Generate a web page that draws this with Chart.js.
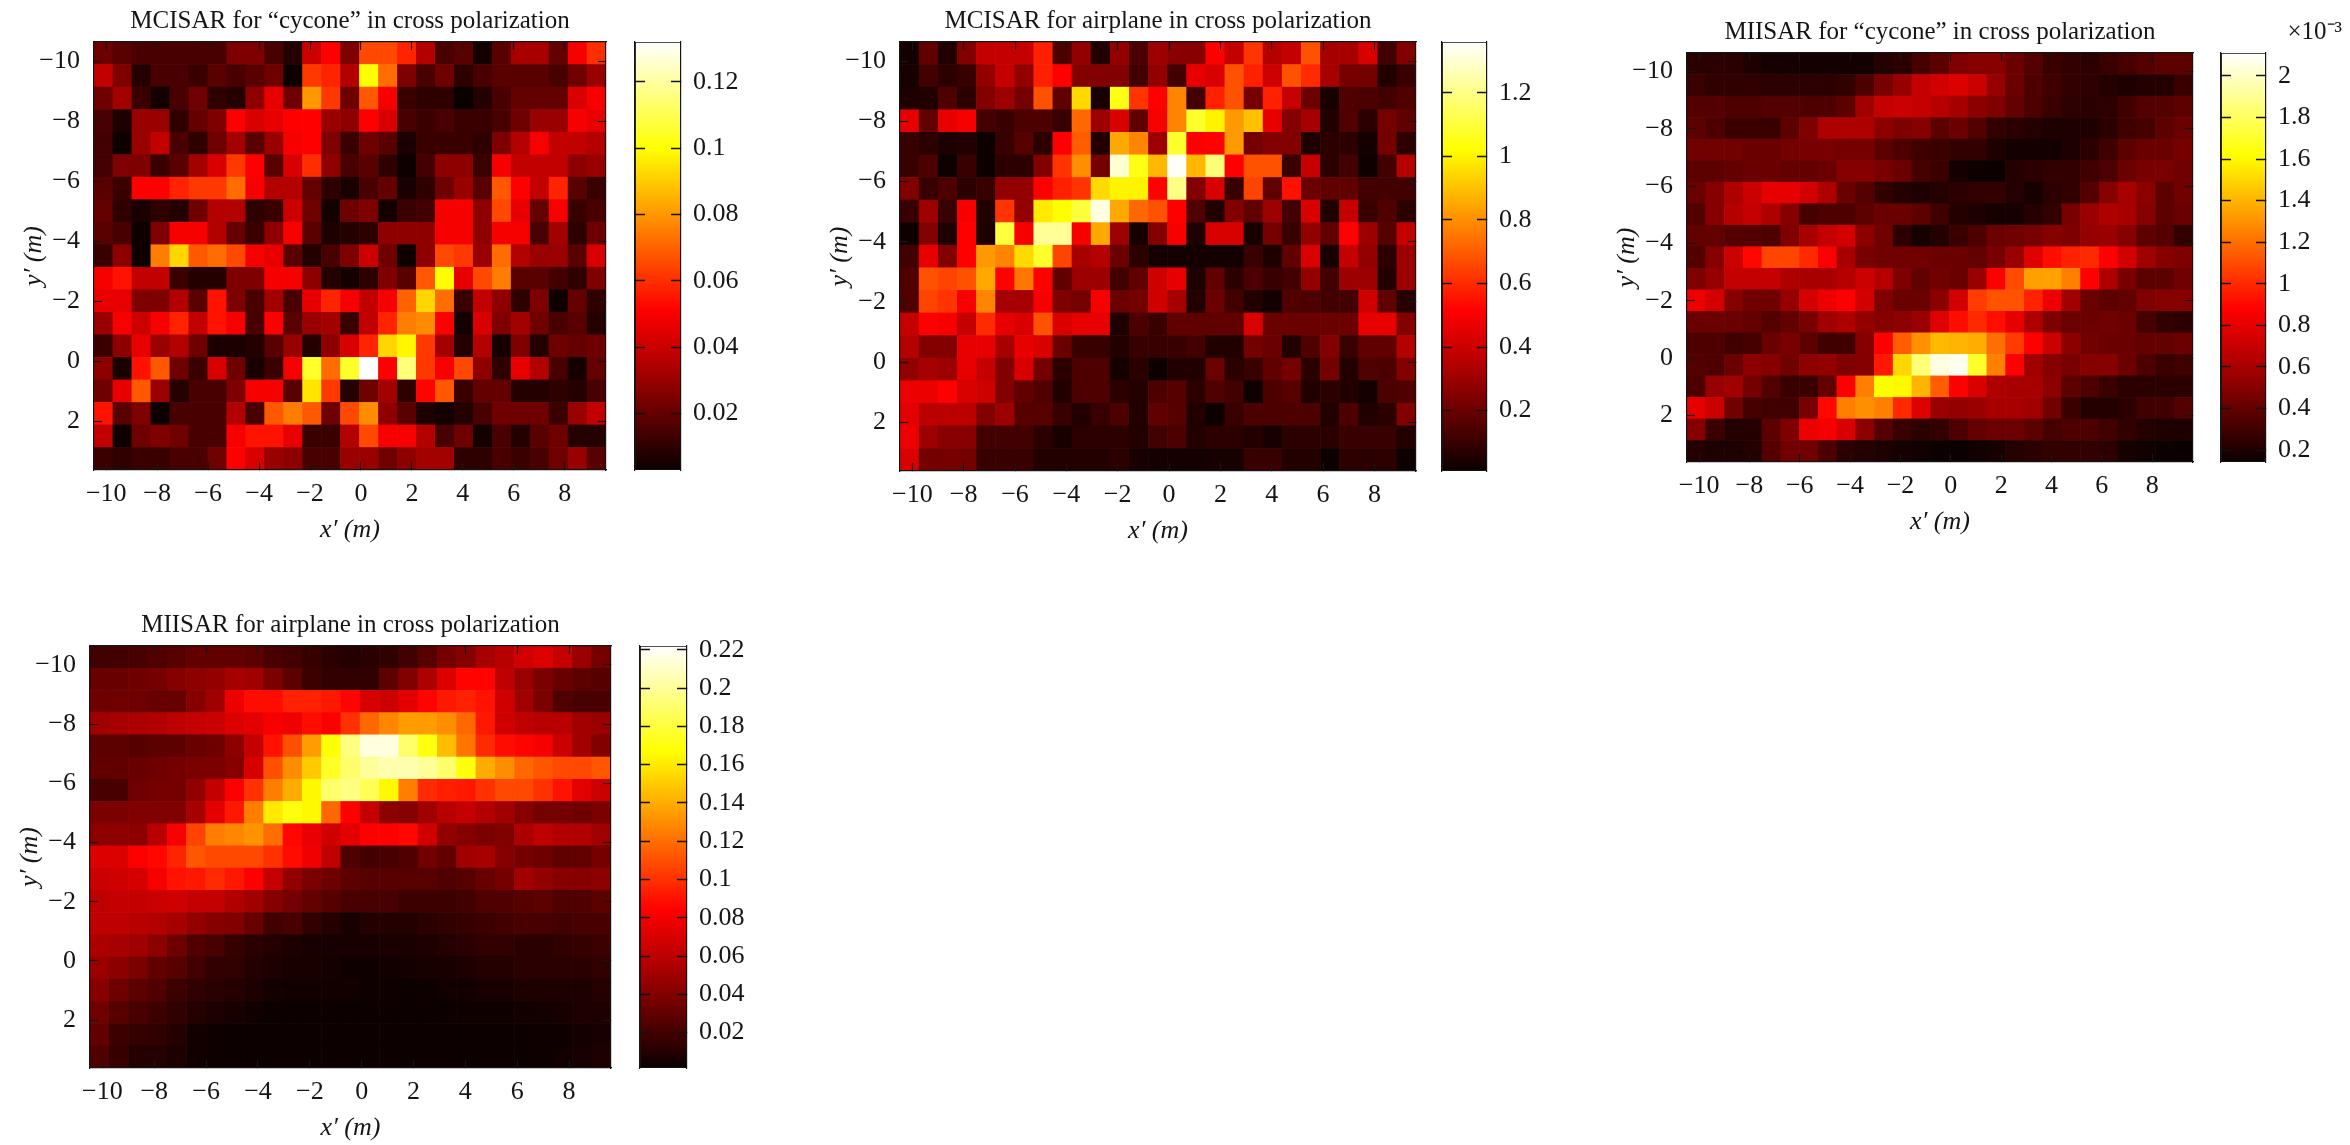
<!DOCTYPE html>
<html>
<head>
<meta charset="utf-8">
<title>MCISAR / MIISAR images in cross polarization</title>
<script src="https://cdn.jsdelivr.net/npm/chart.js@4"></script>
<style>
    html, body { margin: 0; background: #fff; }
    canvas { position: absolute; }
</style>
</head>
<body>
<script>
// ==========================================
// 1. DATA (one row per y' cell, top row first)
// ==========================================
const xTicks = [-10, -8, -6, -4, -2, 0, 2, 4, 6, 8];
const yTicks = [-10, -8, -6, -4, -2, 0, 2];
const xRange = [-10.48, 9.62];
const yRange = [-10.64, 3.62];
const colCount = 27;
const rowCount = 19;

const panelTitles = [
    'MCISAR for “cycone” in cross polarization',
    'MCISAR for airplane in cross polarization',
    'MIISAR for “cycone” in cross polarization',
    'MIISAR for airplane in cross polarization'
];

// colorbar limits and ticks, in the units printed next to the bar
const barRange1 = [0.003, 0.132];
const barRange2 = [0.01, 1.36];
const barRange3 = [0.143, 2.11];
const barRange4 = [0.0015, 0.222];
const barTicks1 = [0.02, 0.04, 0.06, 0.08, 0.1, 0.12];
const barTicks2 = [0.2, 0.4, 0.6, 0.8, 1, 1.2];
const barTicks3 = [0.2, 0.4, 0.6, 0.8, 1, 1.2, 1.4, 1.6, 1.8, 2];
const barTicks4 = [0.02, 0.04, 0.06, 0.08, 0.1, 0.12, 0.14, 0.16, 0.18, 0.2, 0.22];
const barExponent = ['', '', '×10⁻³', ''];

// cell values, stored as whole numbers of these units
const cellUnits = [0.001, 0.01, 0.01, 0.001];

const mcisarCycone = [
    [22,18,15,15,15,15,15,25,25,15,8,40,50,25,65,65,58,35,15,18,5,18,33,33,20,48,60],
    [38,25,8,15,15,12,18,15,18,22,4,62,58,35,100,72,25,15,22,10,15,18,18,18,15,22,30],
    [22,32,12,5,15,22,10,8,28,45,22,80,62,22,68,48,12,10,10,3,8,15,20,20,20,42,48],
    [15,7,30,30,10,20,25,50,42,45,50,50,30,28,50,42,15,12,15,12,12,15,22,30,30,48,45],
    [14,4,30,38,15,10,22,32,18,30,48,50,25,12,22,18,6,12,12,12,10,25,35,48,38,38,35],
    [14,25,25,12,18,32,42,62,50,18,42,60,28,15,18,10,4,14,28,28,12,48,38,38,38,28,30],
    [18,12,50,50,58,62,62,72,48,35,35,20,10,6,15,20,6,10,22,30,18,68,50,38,58,18,12],
    [20,10,6,10,8,22,35,35,10,12,40,22,5,22,25,5,12,14,48,48,28,65,45,20,48,12,15],
    [18,15,4,25,48,48,35,20,12,28,48,18,7,8,10,28,28,28,48,48,28,48,48,15,32,10,22],
    [12,28,4,75,92,68,72,65,48,45,18,8,15,25,40,22,4,28,65,62,30,72,35,30,30,18,42],
    [48,55,38,38,12,8,8,25,25,48,48,28,8,5,10,25,18,68,100,45,65,75,18,18,14,10,25],
    [45,45,25,25,35,18,55,25,15,32,15,45,58,48,38,48,70,92,72,12,38,28,10,25,4,20,10],
    [30,48,40,48,58,38,55,48,15,50,18,30,32,12,38,58,75,78,50,5,42,25,32,22,15,18,8],
    [12,28,45,30,35,22,6,6,8,18,30,8,28,42,58,92,98,62,32,8,35,5,25,8,22,20,22],
    [28,6,55,68,22,12,42,22,6,12,48,105,72,105,132,50,115,62,48,65,28,10,45,35,15,5,20],
    [22,45,68,30,8,15,15,25,48,48,18,95,62,8,22,32,10,52,68,12,20,20,8,8,10,8,15],
    [55,18,25,4,15,15,15,35,15,68,75,68,22,65,78,28,18,7,5,8,15,22,22,22,12,30,38],
    [38,4,22,25,22,15,15,48,55,55,45,12,12,35,65,48,48,35,15,22,5,15,8,18,22,8,8],
    [12,10,12,12,15,15,22,50,42,30,28,15,15,30,30,22,28,32,32,10,10,15,12,15,22,30,18]
];

const mcisarAirplane = [
    [3,18,6,25,38,38,38,58,14,28,6,28,14,30,26,26,50,38,62,35,38,68,32,32,42,12,25],
    [4,12,8,10,28,38,28,58,50,25,25,25,12,28,12,45,42,68,58,40,68,60,32,22,22,6,10],
    [5,6,14,8,25,30,22,68,18,95,4,105,62,50,78,12,58,68,22,58,38,20,4,15,14,12,15],
    [45,18,45,48,12,10,14,14,10,72,30,42,18,48,78,108,100,82,90,45,25,32,6,15,8,22,18],
    [10,8,5,6,2,10,16,8,50,70,6,85,78,30,108,50,52,82,22,25,25,5,8,8,3,22,8],
    [10,14,2,10,2,8,8,25,62,80,22,130,105,88,135,88,118,50,68,68,10,38,8,12,2,12,35],
    [25,10,14,8,10,28,28,50,58,62,95,100,100,52,120,25,42,10,65,18,55,20,18,18,12,12,12],
    [10,30,10,48,6,62,28,98,102,110,132,85,72,68,50,15,6,25,18,30,12,42,6,38,10,15,8],
    [2,25,5,50,5,110,48,122,122,48,85,30,4,25,48,5,42,42,4,22,10,28,18,52,30,16,38],
    [12,45,25,50,82,78,95,108,65,32,35,20,8,3,3,3,3,3,10,5,18,42,4,38,28,8,30],
    [15,68,65,68,85,52,75,50,18,30,30,12,18,40,45,5,18,8,14,10,12,28,12,30,30,6,30],
    [15,65,62,48,78,32,32,48,24,22,48,20,22,40,32,6,20,12,6,3,15,14,12,12,40,18,7],
    [38,50,48,38,60,45,42,68,42,45,45,5,14,10,18,18,18,18,42,20,20,20,20,20,45,45,25],
    [35,25,25,45,45,32,45,42,20,10,10,6,10,10,10,12,6,6,22,20,6,15,25,10,18,18,35],
    [28,32,30,45,38,25,42,22,8,14,14,3,8,2,6,6,20,8,10,18,22,8,22,6,15,14,25],
    [46,46,50,42,40,25,18,15,6,14,14,8,6,14,16,8,15,12,2,14,16,6,8,6,3,14,15],
    [44,36,36,36,25,30,16,16,10,6,10,14,6,18,16,6,2,10,14,14,14,14,6,14,6,8,25],
    [46,30,26,26,12,12,12,8,4,8,8,8,6,12,14,6,8,8,6,4,8,8,8,10,10,10,6],
    [42,22,22,22,10,10,10,6,6,6,6,8,4,3,3,3,4,4,10,10,6,6,2,8,8,8,2]
];

const miisarCycone = [
    [24,24,24,20,18,18,17,17,17,17,22,24,32,38,48,50,50,42,36,28,26,24,28,32,36,38,38],
    [28,25,25,25,24,24,24,24,26,34,46,55,68,72,75,70,55,42,34,30,26,24,22,20,22,22,28],
    [36,36,34,34,36,36,34,34,38,58,68,70,68,64,60,52,48,40,34,28,24,24,24,30,36,36,38],
    [38,34,28,28,28,38,48,62,62,62,52,48,50,38,42,35,26,24,22,20,20,20,24,30,32,38,42],
    [44,44,44,42,42,45,46,46,45,45,38,34,30,28,26,26,20,17,17,17,20,24,30,38,42,42,45],
    [38,38,40,42,42,40,40,42,50,50,46,42,32,28,17,15,15,22,24,26,26,30,34,42,46,46,44],
    [42,50,62,70,78,78,72,62,42,36,26,22,20,22,24,26,26,22,18,24,26,36,50,60,52,38,44],
    [36,50,64,68,62,50,32,34,34,38,42,42,38,30,22,20,18,18,22,26,46,56,62,60,50,38,42],
    [40,40,36,36,34,48,60,68,72,52,44,24,18,22,28,34,42,44,46,50,48,55,56,50,38,36,26],
    [36,50,70,90,108,108,100,84,60,46,44,44,44,42,42,40,46,56,76,92,98,100,88,72,58,50,48],
    [48,55,68,68,68,62,60,60,64,70,64,48,40,44,42,56,86,110,134,135,125,88,62,46,38,38,44],
    [80,72,50,44,44,55,72,80,85,72,48,42,42,52,72,105,112,112,98,80,58,42,38,40,48,50,50],
    [42,42,42,40,36,40,46,58,62,54,50,52,56,76,92,100,92,78,62,48,42,42,44,42,32,26,24],
    [34,34,30,32,42,46,38,30,30,50,88,115,130,142,140,138,120,105,85,70,52,44,42,42,40,40,42],
    [36,34,42,52,50,44,52,54,48,50,95,150,185,205,208,170,125,85,58,50,46,50,50,42,34,28,30],
    [34,55,58,45,35,28,28,40,85,125,162,160,140,115,85,74,62,60,60,52,38,34,28,24,24,24,24],
    [78,70,44,32,30,30,46,90,125,130,125,100,76,56,54,56,60,60,58,44,28,22,22,24,30,30,36],
    [50,28,22,22,38,48,80,82,74,52,36,28,24,26,34,40,42,42,38,32,34,34,30,26,22,20,20],
    [22,20,20,22,36,44,44,34,24,22,20,18,16,15,15,16,18,22,24,26,26,26,24,18,16,15,14]
];

const miisarAirplane = [
    [20,20,22,24,26,30,30,30,28,22,20,16,12,10,12,14,20,26,36,42,52,58,66,70,62,48,36],
    [32,32,34,36,42,44,46,52,50,38,28,18,14,14,14,28,40,55,70,85,85,60,48,38,32,28,26],
    [34,34,34,32,32,42,50,75,88,88,95,95,92,85,68,64,72,85,92,95,90,66,50,38,24,22,22],
    [50,52,54,56,60,62,64,70,72,78,76,88,80,100,118,128,135,135,130,118,92,66,60,58,58,50,48],
    [28,28,26,28,28,32,34,44,62,90,110,135,168,195,215,215,190,170,145,122,98,88,85,78,64,50,40],
    [30,30,32,34,36,38,38,42,68,110,130,150,175,190,200,205,205,200,190,170,140,130,118,112,108,108,112],
    [22,22,34,36,36,46,62,80,100,125,140,165,190,195,185,165,125,98,94,92,100,108,108,100,90,72,64],
    [38,38,40,40,40,52,72,92,125,160,170,165,118,84,62,44,42,50,58,62,56,50,42,36,36,34,38],
    [44,44,44,58,78,106,125,128,132,120,86,74,66,72,82,84,86,66,46,42,38,40,54,60,56,56,50],
    [70,70,80,86,96,112,108,108,108,100,88,76,60,24,20,22,24,35,30,50,52,42,36,34,30,30,36],
    [64,66,68,78,90,92,98,92,82,62,46,38,34,28,26,26,26,26,24,26,32,36,50,46,42,42,44],
    [60,62,62,64,66,62,62,56,50,42,36,30,26,22,22,22,18,18,18,20,24,24,26,28,24,24,28],
    [60,60,58,56,52,46,42,40,32,20,22,14,10,6,10,10,10,12,14,16,18,20,22,22,20,22,22],
    [54,52,50,44,34,24,22,16,12,10,8,6,6,6,6,7,7,8,10,12,14,14,12,12,14,16,18],
    [48,44,38,30,26,20,14,14,10,8,6,6,5,3,3,4,5,6,6,8,10,10,12,12,12,12,14],
    [42,34,28,24,18,14,12,10,8,5,4,4,4,4,3,3,2,3,4,4,6,6,8,8,8,8,10],
    [34,26,22,18,14,10,8,6,4,2,2,2,2,2,2,2,2,2,2,3,3,3,4,5,6,8,8],
    [30,18,15,14,10,4,3,2,2,2,2,2,2,2,2,2,2,2,2,2,2,2,2,3,3,5,6],
    [24,16,10,10,8,4,3,2,2,2,2,2,2,2,2,2,2,2,2,2,2,2,2,3,4,6,8]
];

const panelValues = [mcisarCycone, mcisarAirplane, miisarCycone, miisarAirplane];
const barRanges = [barRange1, barRange2, barRange3, barRange4];
const barTickLists = [barTicks1, barTicks2, barTicks3, barTicks4];

// ==========================================
// 2. PAGE LAYOUT (pixels of the plot box and colorbar of each panel)
// ==========================================
const plotBoxes = [
    { left: 94, top: 42, right: 606, bottom: 470, barLeft: 635, barRight: 681 },
    { left: 900, top: 42, right: 1416, bottom: 471, barLeft: 1442, barRight: 1487 },
    { left: 1687, top: 53, right: 2193, bottom: 462, barLeft: 2221, barRight: 2266 },
    { left: 90, top: 646, right: 611, bottom: 1068, barLeft: 640, barRight: 687 }
];

const FONT = '"Liberation Serif", serif';
const INK = '#151515';
const Y_AXIS_W = 80;
const X_AXIS_H = 76;
const HEAD_H = 36;

// ==========================================
// 3. HELPERS
// ==========================================
function hotColor(f) {
    const t = Math.min(1, Math.max(0, f));
    const r = Math.min(1, 0.04 + t / 0.375);
    const g = Math.min(1, Math.max(0, (t - 0.375) / 0.375));
    const b = Math.max(0, (t - 0.75) / 0.25);
    return `rgb(${Math.round(r * 255)},${Math.round(g * 255)},${Math.round(b * 255)})`;
}

function tickText(v) {
    return v < 0 ? '−' + Math.abs(v) : String(v);
}

function addCanvas(left, top, width, height) {
    const canvas = document.createElement('canvas');
    canvas.width = width;
    canvas.height = height;
    canvas.style.left = left + 'px';
    canvas.style.top = top + 'px';
    canvas.style.width = width + 'px';
    canvas.style.height = height + 'px';
    document.body.appendChild(canvas);
    return canvas.getContext('2d');
}

// fixes a scale's thickness and drops the room it asks for around its labels
function fixSize(key, size) {
    return scale => {
        scale[key] = size;
        scale.paddingLeft = scale.paddingRight = scale.paddingTop = scale.paddingBottom = 0;
    };
}

// axis with small inward ticks drawn on top of the cells
function boxAxis(position, range, tickList, extra) {
    return Object.assign({
        type: 'linear',
        position: position,
        offset: false,
        min: range[0],
        max: range[1],
        afterBuildTicks: scale => { scale.ticks = tickList.map(value => ({ value })); },
        grid: { offset: false, drawOnChartArea: false, drawTicks: true, tickLength: -8, tickWidth: 1.2, tickColor: INK, z: 1 },
        border: { display: true, color: INK, width: 1.2, z: 1 }
    }, extra);
}

function labelTicks(padding) {
    return {
        display: true,
        autoSkip: false,
        maxRotation: 0,
        padding: padding,
        color: INK,
        font: { family: FONT, size: 26, lineHeight: 1.25 },
        callback: value => tickText(value)
    };
}

function axisTitle(text, padding) {
    return {
        display: true,
        text: text,
        color: INK,
        padding: padding,
        font: { family: FONT, size: 26, style: 'italic', lineHeight: 1.25 }
    };
}

// ==========================================
// 4. HEATMAP: floating bars on linear scales, one per cell
// ==========================================
function drawHeatmap(index) {
    const box = plotBoxes[index];
    const [barMin, barMax] = barRanges[index];
    const cellW = (xRange[1] - xRange[0]) / colCount;
    const cellH = (yRange[1] - yRange[0]) / rowCount;

    const cells = [];
    const colors = [];
    panelValues[index].forEach((row, r) => {
        row.forEach((value, c) => {
            const y0 = yRange[0] + r * cellH;
            cells.push({ x: xRange[0] + (c + 0.5) * cellW, y: [y0, y0 + cellH] });
            colors.push(hotColor((value * cellUnits[index] - barMin) / (barMax - barMin)));
        });
    });

    const ctx = addCanvas(box.left - Y_AXIS_W, box.top - HEAD_H,
        box.right - box.left + Y_AXIS_W + 2, box.bottom - box.top + HEAD_H + X_AXIS_H);

    new Chart(ctx, {
        type: 'bar',
        data: {
            datasets: [{
                data: cells,
                backgroundColor: colors,
                borderWidth: 0,
                barPercentage: 1,
                categoryPercentage: 1,
                grouped: false
            }]
        },
        options: {
            responsive: false,
            animation: false,
            layout: { padding: { right: 2 } },
            plugins: {
                legend: { display: false },
                tooltip: { enabled: false },
                title: {
                    display: true,
                    text: panelTitles[index],
                    fullSize: false,
                    color: INK,
                    padding: { top: 0, bottom: 6 },
                    font: { family: FONT, size: 25, weight: 'normal', lineHeight: 1.2 }
                }
            },
            scales: {
                x: boxAxis('bottom', xRange, xTicks, {
                    ticks: labelTicks(16),
                    title: axisTitle('x′ (m)', 0),
                    afterFit: fixSize('height', X_AXIS_H)
                }),
                y: boxAxis('left', yRange, yTicks, {
                    reverse: true,
                    ticks: labelTicks(22),
                    title: axisTitle('y′ (m)', 4),
                    afterFit: fixSize('width', Y_AXIS_W)
                }),
                x2: boxAxis('top', xRange, xTicks, {
                    ticks: { display: false },
                    afterFit: fixSize('height', 0)
                }),
                y2: boxAxis('right', yRange, yTicks, {
                    reverse: true,
                    ticks: { display: false },
                    afterFit: fixSize('width', 0)
                })
            }
        }
    });
}

// ==========================================
// 5. COLORBAR: a single floating bar with the colormap as gradient
// ==========================================
function hotGradient(context) {
    const area = context.chart.chartArea;
    if (!area) return '#000';
    const g = context.chart.ctx.createLinearGradient(0, area.bottom, 0, area.top);
    [0, 0.125, 0.25, 0.375, 0.5, 0.625, 0.75, 0.875, 1].forEach(s => g.addColorStop(s, hotColor(s)));
    return g;
}

function drawColorbar(index) {
    const box = plotBoxes[index];
    const range = barRanges[index];
    const ticks = barTickLists[index];
    const labelW = 76;
    const barGrid = { offset: false, drawOnChartArea: false, tickLength: -10, tickWidth: 1.5, tickColor: '#111', z: 1 };

    const ctx = addCanvas(box.barLeft - 2, box.top - HEAD_H,
        box.barRight - box.barLeft + 2 + labelW, box.bottom - box.top + HEAD_H + 2);

    new Chart(ctx, {
        type: 'bar',
        data: {
            labels: [''],
            datasets: [{
                data: [range],
                backgroundColor: hotGradient,
                borderColor: INK,
                borderWidth: 1.2,
                borderSkipped: false,
                barPercentage: 1,
                categoryPercentage: 1
            }]
        },
        options: {
            responsive: false,
            animation: false,
            layout: { padding: { left: 2, bottom: 2 } },
            plugins: {
                legend: { display: false },
                tooltip: { enabled: false },
                title: {
                    display: true,
                    text: barExponent[index],
                    fullSize: true,
                    align: 'end',
                    color: INK,
                    padding: { top: 0, bottom: 6 },
                    font: { family: FONT, size: 25, weight: 'normal', lineHeight: 1.2 }
                }
            },
            scales: {
                x: { display: false },
                y: boxAxis('right', range, ticks, {
                    grid: barGrid,
                    ticks: labelTicks(22),
                    afterFit: fixSize('width', labelW)
                }),
                y2: boxAxis('left', range, ticks, {
                    grid: barGrid,
                    ticks: { display: false },
                    afterFit: fixSize('width', 0)
                })
            }
        }
    });
}

// ==========================================
// 6. START
// ==========================================
plotBoxes.forEach((box, i) => {
    drawHeatmap(i);
    drawColorbar(i);
});
</script>
</body>
</html>
